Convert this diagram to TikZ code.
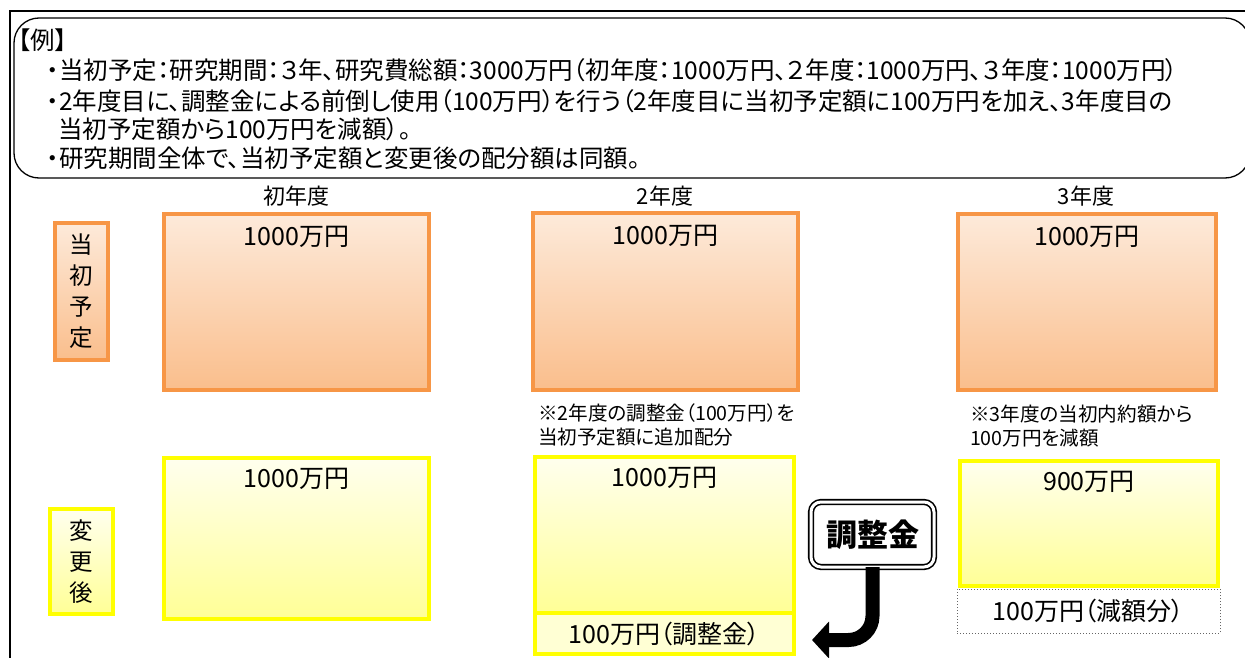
\documentclass[tikz,border=0pt]{standalone}
\usepackage{fontspec}
\setmainfont{Noto Sans CJK JP}[RawFeature=+palt]
\usetikzlibrary{arrows.meta,calc}
\definecolor{orB}{RGB}{247,150,70}
\definecolor{orT}{RGB}{253,234,218}
\definecolor{orD}{RGB}{250,190,140}
\definecolor{yeB}{RGB}{255,255,0}
\definecolor{yeT}{RGB}{255,255,238}
\definecolor{yeD}{RGB}{255,255,150}
\definecolor{yeL}{RGB}{255,255,212}
\begin{document}
\begin{tikzpicture}[x=1pt,y=-1pt,
  every node/.style={inner sep=0pt, outer sep=0pt},
  topline/.style={anchor=west, font=\fontsize{24.5}{28}\selectfont},
  heading/.style={font=\fontsize{22}{24}\selectfont},
  orbox/.style={draw=orB, line width=4pt, top color=orT, bottom color=orD},
  yebox/.style={draw=yeB, line width=4pt, top color=yeT, bottom color=yeD},
  amount/.style={anchor=north, font=\fontsize{25}{28}\selectfont},
  note/.style={anchor=west, font=\fontsize{19.6}{22}\selectfont},
  vlabel/.style={align=center, font=\fontsize{23.5}{31}\selectfont},
  signbox/.style={draw=black, double=white, double distance=3pt, line width=1.6pt,
    rounded corners=10pt, fill=white, font=\bfseries\fontsize{31}{34}\selectfont},
  bigarrow/.style={line width=14pt, rounded corners=24pt,
    -{Triangle[length=17pt,width=36pt]}}
]
\useasboundingbox (0,0) rectangle (1245,658);
\fill[white] (0,0) rectangle (1245,658);
% outer frame
\draw[line width=2pt] (10,658) -- (10,11) -- (1250,11);
% example box
\node[draw, line width=1.3pt, rounded corners=25pt, minimum width=1236pt, minimum height=160pt] (ex) at (632,98) {};
\node[topline] (t0) at (18,40) {【例】};
\node[topline] (t1) at (47,70) {・当初予定：研究期間：３年、研究費総額：3000万円（初年度：1000万円、２年度：1000万円、３年度：1000万円）};
\node[topline] (t2) at (47,101) {・2年度目に、調整金による前倒し使用（100万円）を行う（2年度目に当初予定額に100万円を加え、3年度目の};
\node[topline] (t3) at (58,129) {当初予定額から100万円を減額）。};
\node[topline] (t4) at (47,158) {・研究期間全体で、当初予定額と変更後の配分額は同額。};
% headings
\node[heading] (h1) at (296,196) {初年度};
\node[heading] (h2) at (665,196) {2年度};
\node[heading] (h3) at (1086,196) {3年度};
% row labels
\node[orbox, minimum width=53pt, minimum height=137pt] (l1) at (81.5,291.5) {};
\node[vlabel] at (l1.center) {当\\初\\予\\定};
\node[yebox, minimum width=63pt, minimum height=105pt] (l2) at (81.5,561.5) {};
\node[vlabel] at (l2.center) {変\\更\\後};
% initial plan boxes
\node[orbox, minimum width=265pt, minimum height=176pt] (a1) at (296.5,302) {};
\node[orbox, minimum width=265pt, minimum height=177pt] (a2) at (665.5,301.5) {};
\node[orbox, minimum width=258pt, minimum height=176pt] (a3) at (1087,302) {};
\node[amount] (a1t) at ($(a1.north)+(0,12)$) {1000万円};
\node[amount] (a2t) at ($(a2.north)+(0,12)$) {1000万円};
\node[amount] (a3t) at ($(a3.north)+(0,12)$) {1000万円};
% notes
\node[note] (n2a) at (538,413) {※2年度の調整金（100万円）を};
\node[note] (n2b) at (538,437) {当初予定額に追加配分};
\node[note] (n3a) at (970,414) {※3年度の当初内約額から};
\node[note] (n3b) at (970,438) {100万円を減額};
% changed boxes
\node[yebox, minimum width=265pt, minimum height=161pt] (b1) at (296.5,538.5) {};
\node[yebox, minimum width=259pt, minimum height=156pt] (b2) at (664.5,535) {};
\node[draw=yeB, line width=4pt, fill=yeL, minimum width=259pt, minimum height=41pt] (b2b) at (664.5,633.5) {};
\node[yebox, minimum width=258pt, minimum height=125pt] (b3) at (1089,523.5) {};
\node[draw=black!60, dotted, line width=1pt, fill=white, minimum width=263pt, minimum height=44pt] (b3b) at (1088.5,611) {};
\node[amount] (b1t) at ($(b1.north)+(0,10)$) {1000万円};
\node[amount] (b2t) at ($(b2.north)+(0,10)$) {1000万円};
\node[amount] (b3t) at ($(b3.north)+(0,10)$) {900万円};
\node[font=\fontsize{25}{28}\selectfont] (b2bt) at (b2b.center) {100万円（調整金）};
\node[font=\fontsize{25}{28}\selectfont] (b3bt) at (b3b.center) {100万円（減額分）};
% sign and arrow
\coordinate (tip) at (812,640);
\node[signbox, minimum width=123pt, minimum height=65pt] (sign) at (872.5,534.5) {調整金};
\draw[bigarrow] (sign.south) |- (tip);
\end{tikzpicture}
\end{document}
